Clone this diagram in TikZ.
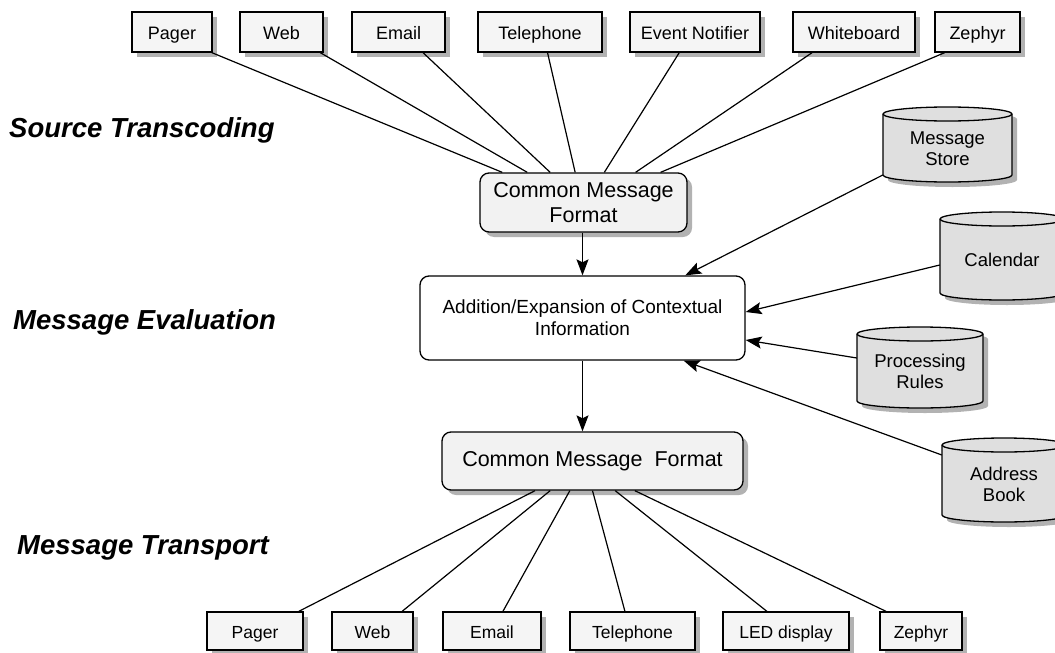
\documentclass[tikz,border=0pt]{standalone}
\usepackage{fontspec}
\setmainfont{Liberation Sans}
\usetikzlibrary{shadows,arrows.meta,calc}
\newcommand{\dbcyl}[6]{%
  \pgfmathsetmacro\cxl{#2-#4/2}\pgfmathsetmacro\cxr{#2+#4/2}%
  \pgfmathsetmacro\cyt{#3-#5/2+7}\pgfmathsetmacro\cyb{#3+#5/2-7}%
  \pgfmathsetmacro\crx{#4/2}%
  \fill[cylshadow] (\cxl+5,\cyb+5) arc[start angle=180,end angle=0,x radius=\crx,y radius=7] -- (\cxr+5,\cyt+5) arc[start angle=0,end angle=-180,x radius=\crx,y radius=7] -- cycle;
  \filldraw[cylbody] (\cxl,\cyb) arc[start angle=180,end angle=0,x radius=\crx,y radius=7] -- (\cxr,\cyt) arc[start angle=0,end angle=-180,x radius=\crx,y radius=7] -- cycle;
  \draw[cylbody,fill=none] (\cxl,\cyt) arc[start angle=180,end angle=0,x radius=\crx,y radius=7];
  \node[cyltext, minimum width=#4pt, minimum height=#5pt] (#1) at (#2,#3) {};
  \node[cyltext] at (#2,#3+4) {#6};
}
\begin{document}
\begin{tikzpicture}[x=1pt,y=-1pt,
  shad/.style={drop shadow={shadow xshift=5pt, shadow yshift=-5pt, fill=gray!60, opacity=1}},
  srcbox/.style={draw, line width=1.3pt, fill=gray!8, minimum height=40pt, inner sep=0pt, text height=16pt, text depth=1pt, font=\fontsize{18}{20}\selectfont, shad},
  dstbox/.style={draw, line width=1.3pt, fill=gray!8, minimum height=38pt, inner sep=0pt, text height=16pt, text depth=1pt, font=\fontsize{17.5}{20}\selectfont, shad},
  cmfbox/.style={draw, line width=1.3pt, fill=gray!10, rounded corners=9pt, inner sep=0pt, align=center, font=\fontsize{21.5}{25}\selectfont, shad},
  addbox/.style={draw, line width=1.3pt, fill=white, rounded corners=9pt, inner sep=0pt, align=center, font=\fontsize{19}{22}\selectfont},
  cylshadow/.style={fill=gray!60},
  cylbody/.style={draw, line width=1.3pt, fill=gray!25},
  cyltext/.style={inner sep=0pt, align=center, font=\fontsize{18.5}{21}\selectfont},
  stage/.style={anchor=west, inner sep=0pt, font=\fontsize{27.5}{30}\selectfont\bfseries\itshape},
  conn/.style={line width=1.2pt},
  arr/.style={line width=1.2pt, -{Stealth[length=16pt,width=12pt,inset=3pt]}}
]
\useasboundingbox (0,0) rectangle (1055,653);

% stage labels
\node[stage] (lst) at (9,130) {Source Transcoding};
\node[stage] (lme) at (13,322) {Message Evaluation};
\node[stage] (lmt) at (17,548) {Message Transport};

% top source boxes
\node[srcbox, minimum width=80pt] (pager1) at (172,32) {Pager};
\node[srcbox, minimum width=83pt] (web1) at (281.5,32) {Web};
\node[srcbox, minimum width=93pt] (email1) at (398.5,32) {Email};
\node[srcbox, minimum width=124pt] (tel1) at (540,32) {Telephone};
\node[srcbox, minimum width=130pt] (ev1) at (695,32) {Event Notifier};
\node[srcbox, minimum width=122pt] (wb1) at (854,32) {Whiteboard};
\node[srcbox, minimum width=85pt] (zep1) at (977.5,32) {Zephyr};

% central boxes
\node[cmfbox, minimum width=207pt, minimum height=59pt] (cmf1) at (583.5,202.5) {Common Message\\Format};
\node[addbox, minimum width=325pt, minimum height=84pt] (add) at (582.5,318) {Addition/Expansion of Contextual\\Information};
\node[cmfbox, minimum width=301pt, minimum height=58pt] (cmf2) at (592.5,461) {Common Message\ \ Format};

% bottom destination boxes
\node[dstbox, minimum width=96pt] (pager2) at (255,631) {Pager};
\node[dstbox, minimum width=81pt] (web2) at (372.5,631) {Web};
\node[dstbox, minimum width=98pt] (email2) at (492,631) {Email};
\node[dstbox, minimum width=125pt] (tel2) at (632.5,631) {Telephone};
\node[dstbox, minimum width=126pt] (led2) at (786,631) {LED display};
\node[dstbox, minimum width=82pt] (zep2) at (921,631) {Zephyr};

% databases
\dbcyl{ms}{947.5}{144.5}{129}{75}{Message\\Store}
\dbcyl{cal}{1002}{256}{124}{88}{Calendar}
\dbcyl{pr}{920}{367.5}{126}{81}{Processing\\Rules}
\dbcyl{ab}{1004}{480}{124}{84}{Address\\Book}

% source connectors
\draw[conn] ($(pager1.south west)!0.99!(pager1.south east)$) -- ($(cmf1.north west)!0.11!(cmf1.north east)$);
\draw[conn] ($(web1.south west)!0.96!(web1.south east)$) -- ($(cmf1.north west)!0.23!(cmf1.north east)$);
\draw[conn] ($(email1.south west)!0.76!(email1.south east)$) -- ($(cmf1.north west)!0.34!(cmf1.north east)$);
\draw[conn] ($(tel1.south west)!0.56!(tel1.south east)$) -- ($(cmf1.north west)!0.46!(cmf1.north east)$);
\draw[conn] ($(ev1.south west)!0.38!(ev1.south east)$) -- ($(cmf1.north west)!0.60!(cmf1.north east)$);
\draw[conn] ($(wb1.south west)!0.16!(wb1.south east)$) -- ($(cmf1.north west)!0.75!(cmf1.north east)$);
\draw[conn] ($(zep1.south west)!0.12!(zep1.south east)$) -- ($(cmf1.north west)!0.87!(cmf1.north east)$);

% main flow
\draw[arr] (cmf1.south -| add.north) -- (add.north);
\draw[arr] (add.south) -- (add.south |- cmf2.north);

% database connectors
\draw[arr] ($(ms.west)+(0,30.5)$) -- ($(add.north west)!0.815!(add.north east)$);
\draw[arr] ($(cal.west)+(0,9)$) -- ($(add.east)+(0,-6)$);
\draw[arr] ($(pr.west)+(0,-9.5)$) -- ($(add.east)+(0,22)$);
\draw[arr] ($(ab.west)+(0,-25)$) -- ($(add.south west)!0.81!(add.south east)$);

% destination connectors
\draw[conn] ($(cmf2.south west)!0.31!(cmf2.south east)$) -- ($(pager2.north west)!0.95!(pager2.north east)$);
\draw[conn] ($(cmf2.south west)!0.36!(cmf2.south east)$) -- ($(web2.north west)!0.86!(web2.north east)$);
\draw[conn] ($(cmf2.south west)!0.425!(cmf2.south east)$) -- ($(email2.north west)!0.61!(email2.north east)$);
\draw[conn] ($(cmf2.south west)!0.50!(cmf2.south east)$) -- ($(tel2.north west)!0.44!(tel2.north east)$);
\draw[conn] ($(cmf2.south west)!0.575!(cmf2.south east)$) -- ($(led2.north west)!0.35!(led2.north east)$);
\draw[conn] ($(cmf2.south west)!0.64!(cmf2.south east)$) -- ($(zep2.north west)!0.08!(zep2.north east)$);
\end{tikzpicture}
\end{document}
